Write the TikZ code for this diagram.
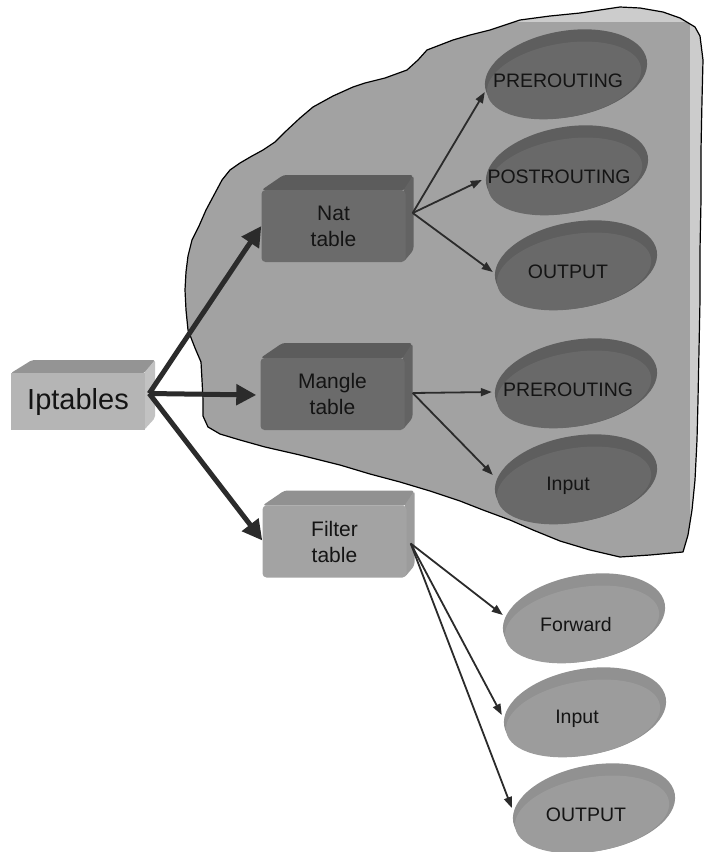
\documentclass[tikz,border=0pt]{standalone}
\usepackage{fontspec}
\setmainfont{Liberation Sans}
\usetikzlibrary{arrows.meta,calc,shapes.geometric}

\definecolor{blobfill}{gray}{0.635}
\definecolor{blobrim}{gray}{0.80}
\definecolor{natfront}{gray}{0.42}
\definecolor{nattop}{gray}{0.36}
\definecolor{natside}{gray}{0.39}
\definecolor{natrim}{gray}{0.37}
\definecolor{natface}{gray}{0.41}
\definecolor{filfront}{gray}{0.64}
\definecolor{filtop}{gray}{0.57}
\definecolor{filside}{gray}{0.61}
\definecolor{filrim}{gray}{0.57}
\definecolor{filface}{gray}{0.61}
\definecolor{iptfront}{gray}{0.71}
\definecolor{ipttop}{gray}{0.58}
\definecolor{iptside}{gray}{0.76}
\definecolor{inkline}{gray}{0.17}
\definecolor{inktext}{gray}{0.08}

\tikzset{
  tablenode/.style={rectangle, rounded corners=4pt, minimum width=144pt,
    minimum height=72pt, inner sep=0pt, align=center, text=inktext,
    font=\fontsize{21}{26}\selectfont},
  discnode/.style={ellipse, minimum width=164pt, minimum height=86pt,
    inner sep=0pt, draw=none},
  disclabel/.style={inner sep=0pt, text=inktext, font=\fontsize{19.5}{22}\selectfont},
  thickarrow/.style={draw=inkline, line width=5pt,
    -{Triangle[length=20pt,width=20pt]}},
  thinarrow/.style={draw=inkline, line width=1.8pt,
    -{Triangle[length=11pt,width=8pt]}},
}

% a table drawn as a bevelled box: top face, right face, then the front node
\newcommand\tablebox[6]{%
  \fill[#4, rounded corners=3pt] ($(#2)+(-72,-36)$) -- ($(#2)+(-50,-51)$)
     -- ($(#2)+(80,-51)$) -- ($(#2)+(72,-36)$) -- cycle;
  \fill[#5, rounded corners=3pt] ($(#2)+(70,-36)$) -- ($(#2)+(80,-51)$)
     -- ($(#2)+(80,24)$) -- ($(#2)+(70,36)$) -- cycle;
  \node[tablenode, fill=#3] (#1) at (#2) {#6};
}

% a chain drawn as a tilted disc with its label
\newcommand\chaindisc[5]{%
  \fill[#3, rotate around={10:(#2)}] (#2) ellipse [x radius=82pt, y radius=43pt];
  \fill[#4, rotate around={10:(#2)}] ($(#2)+(-3,6)$) ellipse [x radius=78pt, y radius=37pt];
  \node[discnode] (#1) at (#2) {};
  \node[disclabel] (#1-label) at ($(#2)+(-8,7)$) {#5};
}

\begin{document}
\begin{tikzpicture}[x=1pt, y=-1pt]
\useasboundingbox (0,0) rectangle (710,852);

% the nat/mangle region
\def\blobpath{(263,150) -- (252,156) -- (240,163) -- (230,170) -- (222,180)
  -- (214,195) -- (206,210) -- (199,226) -- (192,240) -- (188,256) -- (186,272)
  -- (185,290) -- (186,310) -- (188,330) -- (195,348) -- (201,362) -- (202,380)
  -- (203,400) -- (203,416) -- (208,427) -- (220,434) -- (240,440) -- (265,447)
  -- (300,455) -- (340,465) -- (370,474) -- (400,482) -- (430,491) -- (460,501)
  -- (483,510) -- (510,520) -- (533,530) -- (560,541) -- (590,550) -- (620,557)
  -- (650,555) -- (683,552) -- (688,535) -- (692,510) -- (695,480) -- (697,440)
  -- (698,400) -- (699,350) -- (700,300) -- (700,250) -- (701,200) -- (701,150)
  -- (702,100) -- (703,60) -- (700,36) -- (695,27) -- (680,18) -- (663,12)
  -- (640,8) -- (620,7) -- (600,10) -- (580,13) -- (550,16) -- (520,20)
  -- (490,30) -- (470,35) -- (453,40) -- (440,45) -- (427,50) -- (418,60)
  -- (407,70) -- (385,78) -- (365,83) -- (353,87) -- (333,96) -- (313,107)
  -- (300,118) -- (285,132) -- (275,142) -- cycle}
\begin{scope}
  \clip \blobpath;
  \fill[blobrim] (0,0) rectangle (710,852);
  \fill[blobfill] (0,22) rectangle (690,852);
\end{scope}
\draw[black, line width=1.2pt, line join=round] \blobpath;

% Iptables box
\fill[ipttop, rounded corners=2pt] (11,373) -- (32,360) -- (155,360) -- (145,373) -- cycle;
\fill[iptside, rounded corners=2pt] (144,373) -- (155,360) -- (155,418) -- (144,430) -- cycle;
\node[rectangle, fill=iptfront, minimum width=134pt, minimum height=57pt,
  inner sep=0pt, text=inktext, font=\fontsize{29}{32}\selectfont] (ipt) at (78,401.5) {Iptables};

% tables
\tablebox{nat}{333.5,226}{natfront}{nattop}{natside}{Nat\\table}
\tablebox{mangle}{332.5,394}{natfront}{nattop}{natside}{Mangle\\table}
\tablebox{filter}{334.5,541.5}{filfront}{filtop}{filside}{Filter\\table}

% chains
\chaindisc{natpre}{566,74}{natrim}{natface}{PREROUTING}
\chaindisc{natpost}{567,170}{natrim}{natface}{POSTROUTING}
\chaindisc{natout}{576,265}{natrim}{natface}{OUTPUT}
\chaindisc{manpre}{576,383}{natrim}{natface}{PREROUTING}
\chaindisc{manin}{576,479}{natrim}{natface}{Input}
\chaindisc{filfwd}{584,618}{filrim}{filface}{Forward}
\chaindisc{filin}{585,712}{filrim}{filface}{Input}
\chaindisc{filout}{594,808}{filrim}{filface}{OUTPUT}

% connector starting points on the right faces
\coordinate (ipt-out) at ($(ipt.east)+(4,-8)$);
\coordinate (nat-out) at ($(nat.east)+(7,-13)$);
\coordinate (mangle-out) at ($(mangle.east)+(8,-1)$);
\coordinate (filter-out) at ($(filter.east)+(4,2)$);

\draw[thickarrow] (ipt-out) -- (nat.west);
\draw[thickarrow] (ipt-out) -- ([shift={(-4,1)}]mangle.west);
\draw[thickarrow] (ipt-out) -- ([shift={(0,-1)}]filter.west);

\draw[thinarrow] (nat-out) -- ([shift={(1,18)}]natpre.west);
\draw[thinarrow] (nat-out) -- ([shift={(-3,10)}]natpost.west);
\draw[thinarrow] (nat-out) -- ([shift={(-1,7)}]natout.west);
\draw[thinarrow] (mangle-out) -- ([shift={(-2,9)}]manpre.west);
\draw[thinarrow] (mangle-out) -- ([shift={(-1,-4)}]manin.west);
\draw[thinarrow] (filter-out) -- ([shift={(1,-3)}]filfwd.west);
\draw[thinarrow] (filter-out) -- ([shift={(-1,3)}]filin.west);
\draw[thinarrow] (filter-out) -- ([shift={(0,0)}]filout.west);
\end{tikzpicture}
\end{document}
